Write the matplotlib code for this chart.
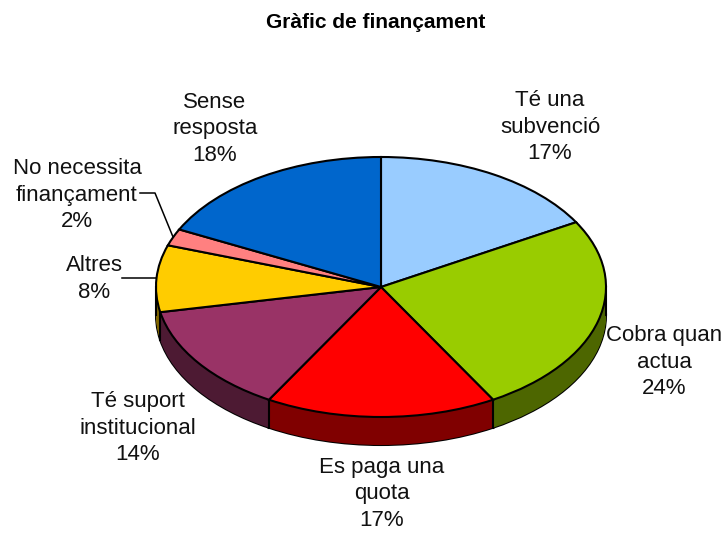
import matplotlib
matplotlib.use("Agg")
import matplotlib.pyplot as plt
import numpy as np

TITLE = "Gràfic de finançament"
labels = [
    "Té una\nsubvenció\n17%",
    "Cobra quan\nactua\n24%",
    "Es paga una\nquota\n17%",
    "Té suport\ninstitucional\n14%",
    "Altres\n8%",
    "No necessita\nfinançament\n2%",
    "Sense\nresposta\n18%",
]
values = [16.7, 25.0, 16.6, 13.6, 8.3, 2.1, 17.7]
colors = ["#99CCFF", "#99CC00", "#FF0000", "#993366", "#FFCC00", "#FF8080", "#0066CC"]

# label centres in pixels, measured from the top left
label_pos = [(550, 127), (664, 362), (382, 494), (138, 428), (94, 279), (77, 195), (215, 129)]

W, H = 723, 533
CX, CY = 381, 287  # pie centre
RX, RY = 225, 130  # ellipse radii
DEPTH = 28 / RY


def px(x, y):
    return (x - CX) / RX, (CY - y) / RY


def main():
    plt.rcParams["font.family"] = ["Liberation Sans", "DejaVu Sans"]
    fig = plt.figure(figsize=(W / 100, H / 100), dpi=100)
    ax = fig.add_axes([0, 0, 1, 1])

    dark = [tuple(c * 0.5 for c in matplotlib.colors.to_rgb(col)) for col in colors]

    # the wall is a stack of darker pies, bottom one carries the outline
    ax.pie(values, colors=dark, startangle=90, counterclock=False, center=(0, -DEPTH),
           wedgeprops={"edgecolor": "black", "linewidth": 1.5})
    for off in np.linspace(DEPTH, 0, 30):
        ax.pie(values, colors=dark, startangle=90, counterclock=False, center=(0, -off))

    # vertical edges of the wall
    fracs = np.cumsum(values) / np.sum(values)
    ang = 2 * np.pi * fracs
    xs = np.sin(ang)
    ys = np.cos(ang)
    for x, y in zip(xs, ys):
        if y < 0:
            ax.plot([x, x], [y, y - DEPTH], color="black", lw=1.5, zorder=5)
    for x in (-1, 1):
        ax.plot([x, x], [0, -DEPTH], color="black", lw=1.5, zorder=5)

    wedges, _ = ax.pie(values, colors=colors, startangle=90, counterclock=False,
                       wedgeprops={"edgecolor": "black", "linewidth": 1.5})
    for w in wedges:
        w.set_zorder(6)

    ax.set_aspect("auto")
    ax.set_xlim(-CX / RX, (W - CX) / RX)
    ax.set_ylim((CY - H) / RY, CY / RY)
    ax.axis("off")

    # leader lines start from the middle of the slice
    starts = np.concatenate([[0], fracs[:-1]])
    mid = 2 * np.pi * (starts + fracs) / 2
    i = 4
    x0, _ = px(122, 0)
    ax.plot([x0, np.sin(mid[i])], [np.cos(mid[i])] * 2, color="black", lw=1.1, zorder=7)
    i = 5
    ex, ey = px(155, 193)
    x0, _ = px(140, 0)
    ax.plot([x0, ex, np.sin(mid[i])], [ey, ey, np.cos(mid[i])], color="black", lw=1.1, zorder=7)

    for lab, (x, y) in zip(labels, label_pos):
        fig.text(x / W, 1 - y / H, lab, ha="center", va="center", fontsize=16,
                 linespacing=1.36, color="#111111")
    fig.text(376 / W, 1 - 22 / H, TITLE, ha="center", va="center", fontsize=15, fontweight="bold")

    fig.savefig("out.png", dpi=100)


if __name__ == "__main__":
    main()
